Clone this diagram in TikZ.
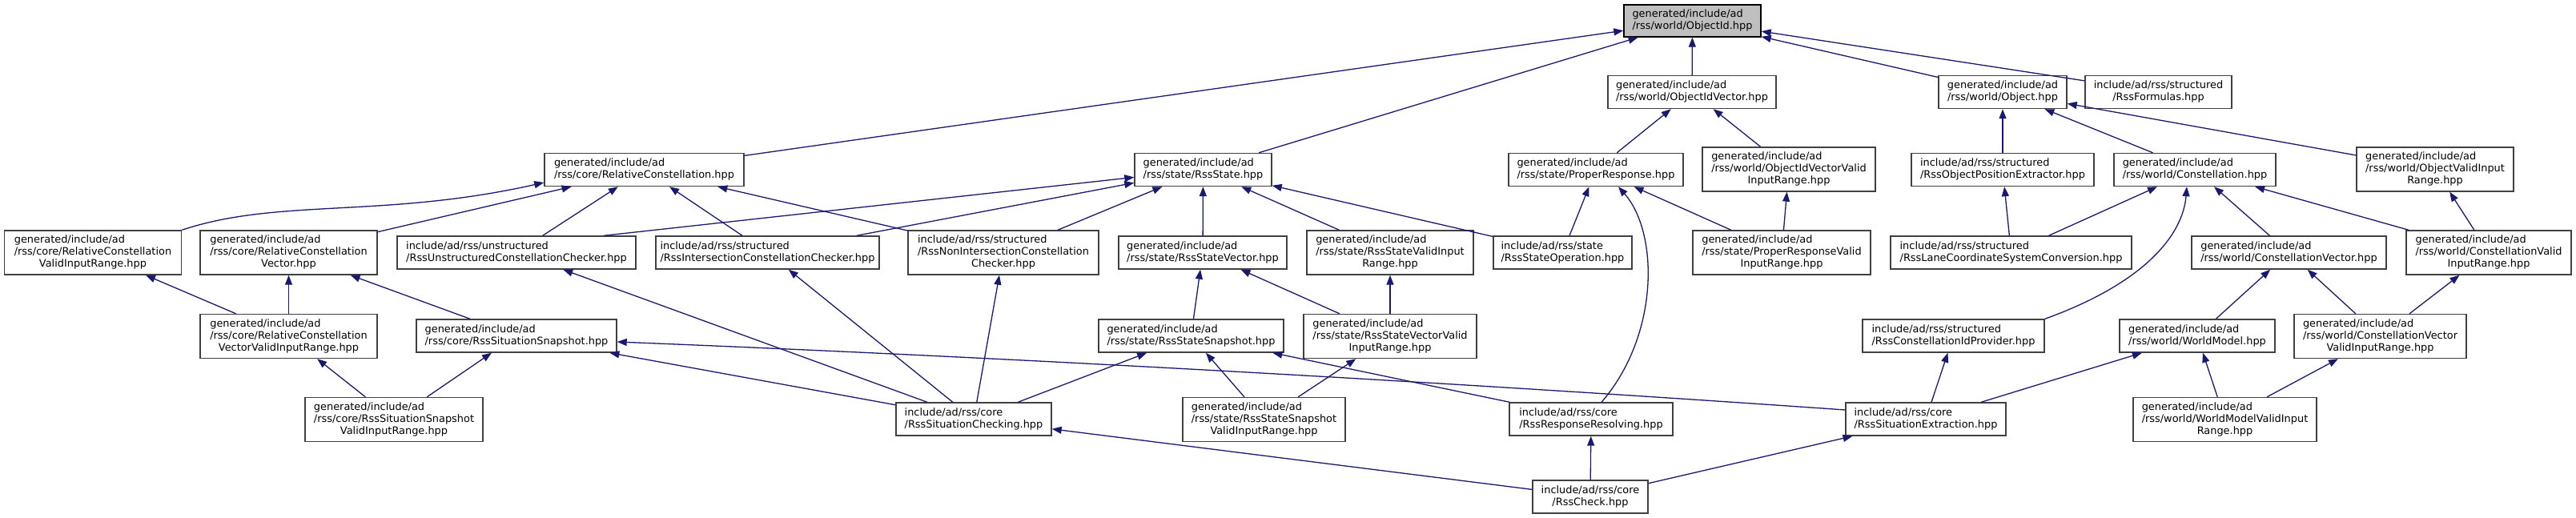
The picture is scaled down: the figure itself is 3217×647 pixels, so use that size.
\documentclass[tikz,border=0pt]{standalone}
\usepackage{fontspec}
\setmainfont{DejaVu Sans}
\usepackage{tikz}
\usetikzlibrary{arrows.meta}
\usepackage{xcolor}
\definecolor{midnight}{HTML}{191970}
\definecolor{boxline}{HTML}{404040}
\definecolor{rootfill}{HTML}{BFBFBF}
\newcommand{\hdrtwo}[2]{\begin{tabular}{@{}l@{}}#1\\\multicolumn{1}{@{}c@{}}{#2}\end{tabular}}
\newcommand{\hdrthree}[3]{\begin{tabular}{@{}l@{}}#1\\#2\\\multicolumn{1}{@{}c@{}}{#3}\end{tabular}}

\begin{document}
\begin{tikzpicture}[x=1pt,y=-1pt,>={Triangle[length=12pt,width=9pt]},
  hdr/.style={draw=boxline,line width=1.4pt,fill=white,inner sep=0pt,minimum height=41,font=\fontsize{12.9}{15}\selectfont},
  tall/.style={minimum height=55},
  inc/.style={->,midnight,line width=1.3pt}]
\useasboundingbox (0,0) rectangle (3217,647);
\node[hdr,fill=rootfill,draw=black,minimum width=171,minimum height=40] (oid) at (2113.5,26) {\hdrtwo{generated/include/ad}{/rss/world/ObjectId.hpp}};
\node[hdr,minimum width=249] (relc) at (804.5,212) {\hdrtwo{generated/include/ad}{/rss/core/RelativeConstellation.hpp}};
\node[hdr,minimum width=171] (rstate) at (1502.5,212) {\hdrtwo{generated/include/ad}{/rss/state/RssState.hpp}};
\node[hdr,minimum width=210] (oidv) at (2113,115) {\hdrtwo{generated/include/ad}{/rss/world/ObjectIdVector.hpp}};
\node[hdr,minimum width=160] (obj) at (2501,115) {\hdrtwo{generated/include/ad}{/rss/world/Object.hpp}};
\node[hdr,minimum width=183] (form) at (2695.5,115) {\hdrtwo{include/ad/rss/structured}{/RssFormulas.hpp}};
\node[hdr,minimum width=218] (presp) at (1993,212) {\hdrtwo{generated/include/ad}{/rss/state/ProperResponse.hpp}};
\node[hdr,tall,minimum width=216] (oidvvir) at (2234,211.5) {\hdrthree{generated/include/ad}{/rss/world/ObjectIdVectorValid}{InputRange.hpp}};
\node[hdr,minimum width=228] (ope) at (2501,212) {\hdrtwo{include/ad/rss/structured}{/RssObjectPositionExtractor.hpp}};
\node[hdr,minimum width=202] (cons) at (2741,212) {\hdrtwo{generated/include/ad}{/rss/world/Constellation.hpp}};
\node[hdr,tall,minimum width=196] (ovir) at (3041,211.5) {\hdrthree{generated/include/ad}{/rss/world/ObjectValidInput}{Range.hpp}};
\node[hdr,tall,minimum width=221] (rcvir) at (116,315.5) {\hdrthree{generated/include/ad}{/rss/core/RelativeConstellation}{ValidInputRange.hpp}};
\node[hdr,tall,minimum width=221] (rcv) at (360.5,315.5) {\hdrthree{generated/include/ad}{/rss/core/RelativeConstellation}{Vector.hpp}};
\node[hdr,minimum width=298] (ucc) at (645,315.5) {\hdrtwo{include/ad/rss/unstructured}{/RssUnstructuredConstellationChecker.hpp}};
\node[hdr,minimum width=279] (icc) at (958.5,315.5) {\hdrtwo{include/ad/rss/structured}{/RssIntersectionConstellationChecker.hpp}};
\node[hdr,tall,minimum width=238] (nicc) at (1253,315.5) {\hdrthree{include/ad/rss/structured}{/RssNonIntersectionConstellation}{Checker.hpp}};
\node[hdr,minimum width=210] (sv) at (1502,315.5) {\hdrtwo{generated/include/ad}{/rss/state/RssStateVector.hpp}};
\node[hdr,tall,minimum width=208] (svir) at (1736,315.5) {\hdrthree{generated/include/ad}{/rss/state/RssStateValidInput}{Range.hpp}};
\node[hdr,minimum width=173] (sop) at (1951.5,315.5) {\hdrtwo{include/ad/rss/state}{/RssStateOperation.hpp}};
\node[hdr,tall,minimum width=222] (prvir) at (2225,315.5) {\hdrthree{generated/include/ad}{/rss/state/ProperResponseValid}{InputRange.hpp}};
\node[hdr,minimum width=301] (lcsc) at (2511.5,315.5) {\hdrtwo{include/ad/rss/structured}{/RssLaneCoordinateSystemConversion.hpp}};
\node[hdr,minimum width=243] (cv) at (2858.5,315.5) {\hdrtwo{generated/include/ad}{/rss/world/ConstellationVector.hpp}};
\node[hdr,tall,minimum width=206] (cvir) at (3108,315.5) {\hdrthree{generated/include/ad}{/rss/world/ConstellationValid}{InputRange.hpp}};
\node[hdr,tall,minimum width=221] (rcvvir) at (360.5,420) {\hdrthree{generated/include/ad}{/rss/core/RelativeConstellation}{VectorValidInputRange.hpp}};
\node[hdr,minimum width=250] (ssnap) at (645,419.5) {\hdrtwo{generated/include/ad}{/rss/core/RssSituationSnapshot.hpp}};
\node[hdr,minimum width=231] (stsnap) at (1487.5,419.5) {\hdrtwo{generated/include/ad}{/rss/state/RssStateSnapshot.hpp}};
\node[hdr,tall,minimum width=216] (svvir) at (1736,420) {\hdrthree{generated/include/ad}{/rss/state/RssStateVectorValid}{InputRange.hpp}};
\node[hdr,minimum width=227] (cidp) at (2439.5,419.5) {\hdrtwo{include/ad/rss/structured}{/RssConstellationIdProvider.hpp}};
\node[hdr,minimum width=194] (wm) at (2744,419.5) {\hdrtwo{generated/include/ad}{/rss/world/WorldModel.hpp}};
\node[hdr,tall,minimum width=215] (cvvir) at (2972.5,420) {\hdrthree{generated/include/ad}{/rss/world/ConstellationVector}{ValidInputRange.hpp}};
\node[hdr,tall,minimum width=222] (ssvir) at (492,524) {\hdrthree{generated/include/ad}{/rss/core/RssSituationSnapshot}{ValidInputRange.hpp}};
\node[hdr,minimum width=194] (sch) at (1216,523.5) {\hdrtwo{include/ad/rss/core}{/RssSituationChecking.hpp}};
\node[hdr,tall,minimum width=203] (stsvir) at (1578.5,524) {\hdrthree{generated/include/ad}{/rss/state/RssStateSnapshot}{ValidInputRange.hpp}};
\node[hdr,minimum width=204] (rres) at (1987,523.5) {\hdrtwo{include/ad/rss/core}{/RssResponseResolving.hpp}};
\node[hdr,minimum width=200] (sext) at (2405,523.5) {\hdrtwo{include/ad/rss/core}{/RssSituationExtraction.hpp}};
\node[hdr,tall,minimum width=229] (wmvir) at (2778.5,524) {\hdrthree{generated/include/ad}{/rss/world/WorldModelValidInput}{Range.hpp}};
\node[hdr,minimum width=144] (chk) at (1986,620.5) {\hdrtwo{include/ad/rss/core}{/RssCheck.hpp}};
\draw[inc] (relc) -- (oid);
\draw[inc] (rstate) -- (oid);
\draw[inc] (oidv) -- (oid);
\draw[inc] (obj) -- (oid);
\draw[inc] (form) -- (oid);
\draw[inc] (presp) -- (oidv);
\draw[inc] (oidvvir) -- (oidv);
\draw[inc] (ope) -- (obj);
\draw[inc] (cons) -- (obj);
\draw[inc] (ovir) -- (obj);
\draw[inc] (rcvir.north east) .. controls +(120,-40) and +(-200,45) .. ([yshift=-16pt]relc.west);
\draw[inc] (rcv) -- (relc);
\draw[inc] (ucc) -- (relc);
\draw[inc] (icc) -- (relc);
\draw[inc] (nicc) -- (relc);
\draw[inc] ([xshift=109pt]ucc.north) -- (rstate);
\draw[inc] (icc) -- (rstate);
\draw[inc] (nicc) -- (rstate);
\draw[inc] (sv) -- (rstate);
\draw[inc] (svir) -- (rstate);
\draw[inc] (sop) -- (rstate);
\draw[inc] (sop) -- (presp);
\draw[inc] (prvir) -- (presp);
\draw[inc] ([xshift=13pt]rres.north) .. controls +(72,-83) and +(51,58) .. ([xshift=28pt]presp.south);
\draw[inc] (prvir) -- (oidvvir);
\draw[inc] (lcsc) -- (ope);
\draw[inc] (lcsc) -- (cons);
\draw[inc] (cidp.north east) .. controls +(125,-45) and +(-5,60) .. ([xshift=-10pt]cons.south);
\draw[inc] (cv) -- (cons);
\draw[inc] (cvir) -- (cons);
\draw[inc] (cvir) -- (ovir);
\draw[inc] (rcvvir) -- (rcvir);
\draw[inc] (rcvvir) -- (rcv);
\draw[inc] (ssnap) -- (rcv);
\draw[inc] (sch) -- (ucc);
\draw[inc] (sch) -- (icc);
\draw[inc] (sch) -- (nicc);
\draw[inc] (stsnap) -- (sv);
\draw[inc] (svvir) -- (sv);
\draw[inc] (svvir) -- (svir);
\draw[inc] (wm) -- (cv);
\draw[inc] (cvvir) -- (cv);
\draw[inc] (cvvir) -- (cvir);
\draw[inc] (ssvir) -- (rcvvir);
\draw[inc] (ssvir) -- (ssnap);
\draw[inc] (sch) -- (ssnap);
\draw[inc] ([yshift=11.5pt]sext.west) .. controls +(-500,-35) and +(500,20) .. ([yshift=-7.5pt]ssnap.east);
\draw[inc] (sch) -- (stsnap);
\draw[inc] (stsvir) -- (stsnap);
\draw[inc] (rres) -- (stsnap);
\draw[inc] (stsvir) -- (svvir);
\draw[inc] (sext) -- (cidp);
\draw[inc] (sext) -- (wm);
\draw[inc] (wmvir) -- (wm);
\draw[inc] (wmvir) -- (cvvir);
\draw[inc] (chk) -- (sch);
\draw[inc] (chk) -- (rres);
\draw[inc] (chk) -- (sext);
\end{tikzpicture}
\end{document}
